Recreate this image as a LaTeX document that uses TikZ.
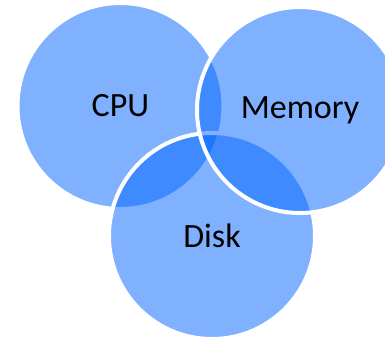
\documentclass[tikz,border=0pt]{standalone}
\usepackage{fontspec}
\setmainfont{Carlito}
\definecolor{vennblue}{RGB}{0,100,255}
\tikzset{
  venn/.style={circle, minimum size=103pt, inner sep=0pt,
    fill=vennblue, fill opacity=0.5, text opacity=1,
    draw=white, line width=2pt,
    font=\fontsize{17}{20}\selectfont},
}
\newcommand{\vset}[4]{%
  \node[venn] (#1) at (#2,#3) {#4};
}
\begin{document}
\begin{tikzpicture}[x=0.5pt, y=-0.5pt]
  \useasboundingbox (0,0) rectangle (385,339);
  \clip (0,0) rectangle (385,339);
  % three sets, memory on top
  \vset{cpu}{120.5}{106}{CPU}
  \vset{disk}{212}{236}{Disk}
  \vset{mem}{300}{110}{Memory}
\end{tikzpicture}
\end{document}
